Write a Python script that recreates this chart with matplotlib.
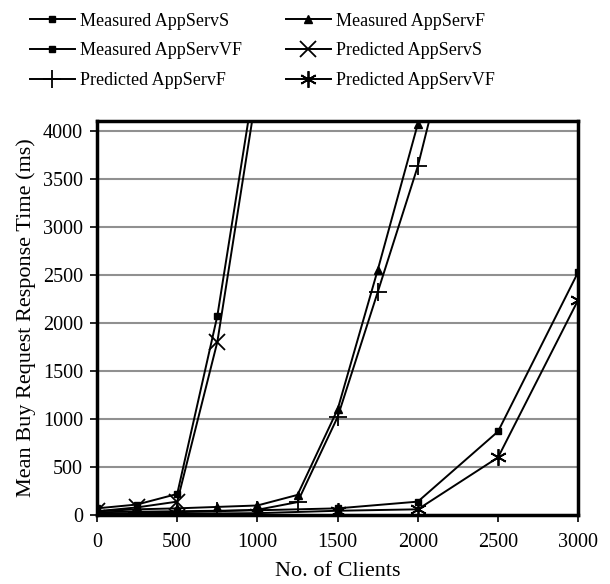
import matplotlib
matplotlib.use("Agg")
import matplotlib.pyplot as plt

plt.rcParams['font.family'] = ['Liberation Serif', 'DejaVu Serif']

clients_s = [0, 250, 500, 750, 1000]
meas_s = [70, 110, 220, 2070, 4700]
pred_s = [40, 80, 140, 1800, 4450]

clients_f = [0, 250, 500, 750, 1000, 1250, 1500, 1750, 2000, 2250]
meas_f = [40, 60, 70, 85, 100, 210, 1100, 2550, 4070, 5600]
pred_f = [10, 20, 30, 40, 55, 135, 1020, 2320, 3630, 5300]

clients_vf = [0, 500, 1000, 1500, 2000, 2500, 3000]
meas_vf = [30, 40, 50, 70, 140, 870, 2530]
pred_vf = [10, 15, 20, 45, 60, 600, 2240]

xticks = [0, 500, 1000, 1500, 2000, 2500, 3000]
yticks = [0, 500, 1000, 1500, 2000, 2500, 3000, 3500, 4000]

fig = plt.figure(figsize=(6.1, 5.84), dpi=100)
ax = fig.add_axes([0.159, 0.118, 0.789, 0.675])

lw = 1.4
h_ms, = ax.plot(clients_s, meas_s, color='black', lw=lw, marker='s', ms=5, label='Measured AppServS')
h_ps, = ax.plot(clients_s, pred_s, color='black', lw=lw, marker='x', ms=12, mew=1.3, label='Predicted AppServS')
h_mf, = ax.plot(clients_f, meas_f, color='black', lw=lw, marker='^', ms=6, label='Measured AppServF')
h_pf, = ax.plot(clients_f, pred_f, color='black', lw=lw, marker='+', ms=13, mew=1.3, label='Predicted AppServF')
h_mvf, = ax.plot(clients_vf, meas_vf, color='black', lw=lw, marker='s', ms=5, label='Measured AppServVF')
h_pvf, = ax.plot(clients_vf, pred_vf, color='black', lw=lw, marker=(6, 2, 0), ms=12, mew=1.3, label='Predicted AppServVF')

ax.set_xlim(0, 3000)
ax.set_ylim(0, 4100)
ax.set_xticks(xticks)
ax.set_yticks(yticks)
ax.tick_params(axis='both', direction='out', length=5, width=1.2, labelsize=14.5, colors='black')
ax.tick_params(axis='x', pad=8)
ax.tick_params(axis='y', pad=5)
ax.yaxis.grid(True, color='#909090', lw=1.5)
ax.set_axisbelow(True)
for sp in ax.spines.values():
    sp.set_linewidth(2.5)
    sp.set_color('black')

ax.set_xlabel('No. of Clients', fontsize=16, labelpad=7)
ax.set_ylabel('Mean Buy Request Response Time (ms)', fontsize=16, labelpad=5)

handles = [h_ms, h_mvf, h_pf, h_mf, h_ps, h_pvf]
fig.legend(handles, [h.get_label() for h in handles], ncol=2, loc='upper left',
           bbox_to_anchor=(0.022, 1.006), frameon=False, fontsize=13,
           handlelength=2.5, columnspacing=2.4, labelspacing=0.7, handletextpad=0.3)

fig.savefig('out.png', dpi=100)
